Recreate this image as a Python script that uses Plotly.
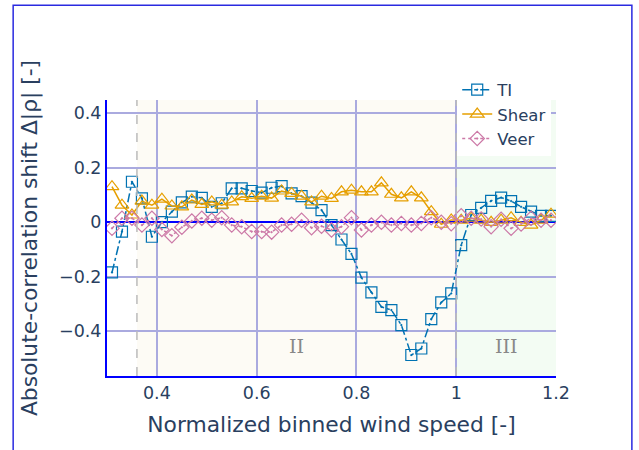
import plotly.graph_objects as go

ws = [round(0.31 + 0.02 * i, 2) for i in range(45)]

ti = [-0.185, -0.035, 0.148, 0.087, -0.054, 0.0, 0.038, 0.072, 0.093, 0.089,
      0.056, 0.069, 0.124, 0.124, 0.114, 0.108, 0.126, 0.132, 0.105, 0.095,
      0.071, 0.044, -0.011, -0.064, -0.117, -0.204, -0.258, -0.311, -0.323, -0.378,
      -0.488, -0.464, -0.356, -0.295, -0.262, -0.085, 0.026, 0.052, 0.078, 0.09,
      0.077, 0.056, 0.038, 0.023, 0.023]

shear = [0.13, 0.062, 0.026, 0.077, 0.062, 0.084, 0.059, 0.056, 0.081, 0.065,
         0.074, 0.062, 0.074, 0.093, 0.087, 0.095, 0.088, 0.114, 0.105, 0.095,
         0.074, 0.095, 0.087, 0.111, 0.117, 0.111, 0.111, 0.144, 0.102, 0.089,
         0.111, 0.089, 0.038, -0.008, 0.008, 0.007, 0.014, 0.007, -0.001, 0.007,
         0.016, -0.001, -0.011, 0.007, 0.029]

veer = [-0.023, 0.014, 0.014, -0.011, 0.014, -0.027, -0.05, -0.019, 0.004, 0.014,
        0.007, 0.016, -0.011, -0.017, -0.035, -0.035, -0.037, -0.011, -0.008, 0.007,
        -0.021, -0.015, -0.029, -0.017, 0.016, -0.029, -0.011, -0.001, -0.011, -0.005,
        -0.011, -0.005, 0.016, -0.001, -0.006, 0.023, 0.014, 0.011, -0.017, 0.01,
        -0.023, -0.007, 0.014, 0.007, 0.007]

region_bounds = [0.36, 1.0, 1.2]
region_labels = ["II", "III"]
x_range = [0.3, 1.2]
y_range = [-0.565, 0.448]

fig = go.Figure()

fig.add_trace(go.Scatter(
    x=ws, y=ti, name="TI", mode="lines+markers",
    line=dict(color="#0072B2", width=1.5, dash="dashdot"),
    marker=dict(symbol="square-open-dot", size=11, color="#0072B2", line=dict(width=1.2)),
))
fig.add_trace(go.Scatter(
    x=ws, y=shear, name="Shear", mode="lines+markers",
    line=dict(color="#E69F00", width=1.5),
    marker=dict(symbol="triangle-up-open", size=12, color="#E69F00", line=dict(width=1.2)),
))
fig.add_trace(go.Scatter(
    x=ws, y=veer, name="Veer", mode="lines+markers",
    line=dict(color="#CC79A7", width=1.5, dash="dot"),
    marker=dict(symbol="diamond-open-dot", size=11, color="#CC79A7", line=dict(width=1.2)),
))

# shaded regimes
fig.add_shape(type="rect", xref="x", yref="paper", x0=region_bounds[0], x1=region_bounds[1],
              y0=0, y1=1, fillcolor="#fdfbf5", line_width=0, layer="below")
fig.add_shape(type="rect", xref="x", yref="paper", x0=region_bounds[1], x1=region_bounds[2],
              y0=0, y1=1, fillcolor="#f3fcf3", line_width=0, layer="below")
for xb in region_bounds[:2]:
    fig.add_shape(type="line", xref="x", yref="paper", x0=xb, x1=xb, y0=0, y1=1,
                  line=dict(color="#bbbbbb", width=1.5, dash="dash"), layer="above")

for i, lab in enumerate(region_labels):
    fig.add_annotation(x=(region_bounds[i] + region_bounds[i + 1]) / 2, y=-0.455,
                       xref="x", yref="y", text=lab, showarrow=False,
                       font=dict(family="DejaVu Serif", size=19, color="#888888"))

# outer frame
fig.add_shape(type="rect", xref="paper", yref="paper", x0=-0.209, x1=1.169, y0=-0.4, y1=1.343,
              line=dict(color="#2a2ae0", width=1.5), fillcolor="rgba(0,0,0,0)", layer="below")

fig.update_layout(
    width=639, height=450,
    margin=dict(l=107, r=83, t=100, b=74),
    paper_bgcolor="white", plot_bgcolor="white",
    font=dict(family="DejaVu Sans", size=17, color="#2a3f5f"),
    showlegend=True,
    legend=dict(x=0.78, y=1.1, xanchor="left", yanchor="top", bgcolor="white",
                font=dict(size=16.5), tracegroupgap=0),
    xaxis=dict(range=x_range, dtick=0.2, tick0=0, showgrid=True, gridcolor="#aaaadf", gridwidth=2,
               showline=True, linecolor="blue", linewidth=2, zeroline=False,
               tickfont=dict(size=17.5),
               title=dict(text="Normalized binned wind speed [-]", font=dict(size=21.8))),
    yaxis=dict(range=y_range, dtick=0.2, tick0=0, showgrid=True, gridcolor="#aaaadf", gridwidth=1.5,
               showline=True, linecolor="blue", linewidth=2, zeroline=True, zerolinecolor="blue",
               zerolinewidth=1.5, tickfont=dict(size=17.5),
               title=dict(text="Absolute-correlation shift Δ|ρ| [-]", font=dict(size=21.8))),
)

fig.write_html("out.html")
